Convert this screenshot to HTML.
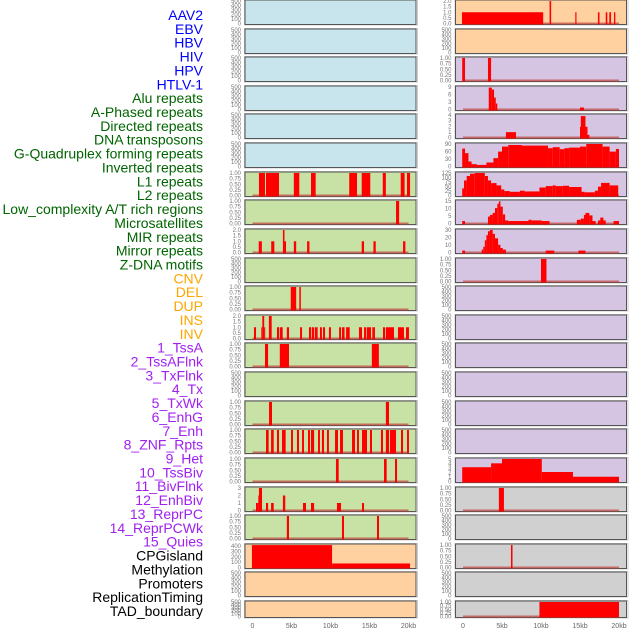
<!DOCTYPE html>
<html><head><meta charset="utf-8"><style>
body{margin:0;background:#fff;width:630px;height:630px;overflow:hidden;font-family:"Liberation Sans",sans-serif}
svg{display:block}
</style></head><body>
<svg id="chart" width="630" height="630" xmlns="http://www.w3.org/2000/svg"></svg>
<script>
const trackLabels = ["AAV2","EBV","HBV","HIV","HPV","HTLV-1","Alu repeats","A-Phased repeats","Directed repeats","DNA transposons","G-Quadruplex forming repeats","Inverted repeats","L1 repeats","L2 repeats","Low_complexity A/T rich regions","Microsatellites","MIR repeats","Mirror repeats","Z-DNA motifs","CNV","DEL","DUP","INS","INV","1_TssA","2_TssAFlnk","3_TxFlnk","4_Tx","5_TxWk","6_EnhG","7_Enh","8_ZNF_Rpts","9_Het","10_TssBiv","11_BivFlnk","12_EnhBiv","13_ReprPC","14_ReprPCWk","15_Quies","CPGisland","Methylation","Promoters","ReplicationTiming","TAD_boundary"];
const labelColors = ["#0000ff","#0000ff","#0000ff","#0000ff","#0000ff","#0000ff","#006400","#006400","#006400","#006400","#006400","#006400","#006400","#006400","#006400","#006400","#006400","#006400","#006400","#ffa500","#ffa500","#ffa500","#ffa500","#ffa500","#a020f0","#a020f0","#a020f0","#a020f0","#a020f0","#a020f0","#a020f0","#a020f0","#a020f0","#a020f0","#a020f0","#a020f0","#a020f0","#a020f0","#a020f0","#000000","#000000","#000000","#000000","#000000"];
const xTicks = [0,5,10,15,20];
const xTickLabels = ["0","5kb","10kb","15kb","20kb"];
const T500=["0","100","200","300","400","500"], T1=["0.00","0.25","0.50","0.75","1.00"], T2=["0.0","0.5","1.0","1.5","2.0"];
const leftYmax = [500,500,500,500,500,500,1,1,2,500,1,2,1,500,1,1,1,3,1,420,500,500];
const leftTicks = [T500,T500,T500,T500,T500,T500,T1,T1,T2,T500,T1,T2,T1,T500,T1,T1,T1,["0","1","2","3"],T1,["0","100","200","300","400"],T500,T500];
const leftTickVals = [null,null,null,null,null,null,null,null,null,null,null,null,null,null,null,null,null,null,null,[0,100,200,300,400],null,null];
const leftBars = [
 [],[],[],[],[],[],
 [[0.83,1.6,1],[1.73,3.4,1],[5.3,6.0,1],[7.5,8.1,1],[12.4,13.4,1],[14.0,15.1,1],[16.7,17.1,1],[19.0,19.5,1],[19.8,20.2,1]],
 [[18.4,18.8,1]],
 [[0.8,1.2,1],[2.4,2.8,1],[3.9,4.1,2],[4.1,4.3,1],[5.3,5.6,1],[7.0,7.3,1],[14.0,14.3,1],[15.5,15.8,1],[19.3,19.6,1]],
 [],
 [[4.9,5.6,1],[6.0,6.2,1]],
 [[0.19,0.45,1],[1.13,1.26,1],[1.26,1.5,2],[1.5,1.6,1],[2.1,2.46,2],[3.14,3.4,1],[3.5,3.87,1],[4.4,4.68,1],[6.1,6.35,1],[7.24,7.5,1],[7.6,7.9,1],[8.0,8.35,1],[8.65,8.9,1],[9.04,9.3,1],[9.8,10.06,1],[11.1,11.35,1],[11.47,11.8,1],[12.0,12.46,1],[13.65,14.04,1],[14.3,14.55,1],[14.64,15.19,1],[15.36,15.7,1],[16.73,17.0,1],[17.1,18.14,1],[18.65,19.42,1],[19.68,20.06,1]],
 [[1.6,2.0,1],[3.5,4.68,1],[15.3,16.2,1]],
 [],
 [[2.12,2.5,1],[17.1,17.5,1]],
 [[1.73,2.07,1],[2.38,2.72,1],[3.14,3.4,1],[3.78,4.25,1],[4.94,5.19,1],[5.7,5.96,1],[6.35,6.6,1],[7.12,7.37,1],[7.5,7.9,1],[8.4,8.65,1],[8.9,9.17,1],[9.55,9.8,1],[10.58,10.96,1],[11.22,11.6,1],[12.76,13.14,1],[13.4,13.65,1],[14.04,14.68,1],[15.06,15.32,1],[16.47,16.73,1],[17.1,17.5,1],[17.63,18.4,1],[19.04,19.3,1],[19.81,20.06,1]],
 [[10.7,11.05,1],[16.86,17.2,1],[18.27,18.53,1]],
 [[0.45,0.75,1],[0.75,0.83,2],[0.83,1.22,3],[1.73,2.0,1],[2.38,2.72,1],[3.9,4.2,2],[6.47,6.86,1],[7.5,7.9,1],[10.83,11.35,1],[14.04,14.3,1]],
 [[4.4,4.68,1],[11.47,11.73,1],[15.96,16.22,1]],
 [[-0.07,10.2,418],[10.2,20.2,75]],
 [],[]
];
const rightYmax = [2,500,1,11.3,4.2,113,127,18.3,35,1,500,500,500,500,500,500,5.2,1,500,1,500,1];
const rightTicks = [T2,T500,T1,["0","3","6","9"],["0","1","2","3","4"],["0","30","60","90"],["0","25","50","75","100","125"],["0","5","10","15"],["0","10","20","30"],T1,T500,T500,T500,T500,T500,T500,["0","1","2","3","4","5"],T1,T500,T1,T500,T1];
const rightBars = [
 [[-0.13,10.28,1],[11.1,11.3,2],[14.4,14.55,1],[17.3,17.5,1],[18.3,18.5,1],[18.76,18.98,1],[19.36,19.53,1]],
 [],
 [[-0.1,0.26,1],[3.2,3.6,1]],
 [[3.3,3.7,11],[3.7,3.98,10],[3.98,4.2,6],[4.2,4.4,3],[15.0,15.5,1]],
 [[5.5,6.8,1],[15.0,15.1,2],[15.1,15.7,4],[15.7,15.96,2],[15.96,16.2,0.5]],
 [[-0.1,0.26,90],[0.26,0.7,67],[0.7,1.1,25],[1.1,1.75,12],[1.75,3.0,8],[3.0,3.9,20],[3.9,4.5,42],[4.5,5.0,75],[5.0,5.8,100],[5.8,7.5,108],[7.5,10.9,105],[10.9,11.5,92],[11.5,12.4,97],[12.4,13.0,87],[13.0,13.6,92],[13.6,15.0,95],[15.0,15.8,100],[15.8,17.9,117],[17.9,18.8,100],[18.8,19.6,75],[19.6,20.0,88]],
 [[-0.1,0.13,40],[0.13,0.47,85],[0.47,0.9,110],[0.9,1.5,123],[1.5,2.8,127],[2.8,3.2,110],[3.2,3.6,85],[3.6,4.3,70],[4.3,4.9,57],[4.9,5.3,34],[5.3,6.0,25],[6.0,7.3,21],[7.3,7.9,27],[7.9,9.8,23],[9.8,10.6,45],[10.6,11.5,53],[11.5,11.9,57],[11.9,12.8,53],[12.8,13.6,55],[13.6,15.2,48],[15.2,15.6,21],[15.6,16.9,18],[16.9,17.3,27],[17.3,17.7,50],[17.7,18.8,71],[18.8,19.9,57]],
 [[-0.1,0.26,2],[3.2,3.45,5.6],[3.45,3.8,7],[3.8,4.1,8.6],[4.1,4.4,12.5],[4.4,4.6,16],[4.6,4.8,18],[4.8,5.1,13.7],[5.1,5.4,7.4],[5.4,5.8,2.5],[5.8,8.4,2],[8.4,8.8,3],[8.8,10.1,2.5],[10.1,11.1,2],[14.6,15.1,3],[15.1,15.5,4],[15.5,15.7,7],[15.7,16.2,8.6],[16.2,16.6,6.6],[16.6,17.0,2],[17.3,17.6,2.5],[17.6,18.0,4.8],[18.0,18.3,2.5],[19.3,20.0,2]],
 [[-0.1,0.26,3],[2.4,2.6,4.5],[2.6,2.8,9],[2.8,3.0,19],[3.0,3.2,27],[3.2,3.45,33],[3.45,3.8,35],[3.8,4.1,29],[4.1,4.5,22],[4.5,4.8,12],[4.8,5.1,7],[5.1,5.5,4.5],[10.6,11.7,3],[14.8,15.7,3]],
 [[10.0,10.7,1]],
 [],[],[],[],[],[],
 [[-0.1,3.6,3.3],[3.6,5.0,4.2],[5.0,10.1,5.3],[10.1,14.1,2.2],[14.1,20.0,1.1]],
 [[4.6,5.25,1]],
 [],
 [[6.15,6.35,1]],
 [],
 [[9.8,20.0,1]]
];
const leftBg = ["#c8e4ec","#c8e4ec","#c8e4ec","#c8e4ec","#c8e4ec","#c8e4ec","#c8e1a5","#c8e1a5","#c8e1a5","#c8e1a5","#c8e1a5","#c8e1a5","#c8e1a5","#c8e1a5","#c8e1a5","#c8e1a5","#c8e1a5","#c8e1a5","#c8e1a5","#ffd0a0","#ffd0a0","#ffd0a0"];
const rightBg = ["#ffd0a0","#ffd0a0","#d5c5e2","#d5c5e2","#d5c5e2","#d5c5e2","#d5c5e2","#d5c5e2","#d5c5e2","#d5c5e2","#d5c5e2","#d5c5e2","#d5c5e2","#d5c5e2","#d5c5e2","#d5c5e2","#d5c5e2","#d0d0d0","#d0d0d0","#d0d0d0","#d0d0d0","#d0d0d0"];

const NS="http://www.w3.org/2000/svg";
const svg=document.getElementById('chart');
function mk(tag,attrs,parent){const e=document.createElementNS(NS,tag);for(const k in attrs)e.setAttribute(k,attrs[k]);(parent||svg).appendChild(e);return e;}

trackLabels.forEach((t,i)=>{
  const e=mk('text',{x:203,y:20+i*13.86,'text-anchor':'end','font-size':'14',fill:labelColors[i]});
  e.textContent=t;
  
  
});

function rowTop(i){return Math.round(i*28.62);}
function rowH(i){return i===21?16.5:24.5;}
function drawColumn(px0,bars,ymax,ticks,tickVals,bgs,colName){
  const xs=kb=>px0+7.5+kb*7.8;
  for(let i=0;i<22;i++){
    const top=rowTop(i),h=rowH(i);
    const g=mk('g',{});
    
    
    mk('rect',{x:px0-0.5,y:top-0.5,width:173,height:h+1,fill:'none',stroke:'#ccc','stroke-width':1},g);
    mk('rect',{x:px0,y:top,width:171,height:h,fill:bgs[i],stroke:'#555','stroke-width':1},g);
    const y0=top+h-1,y1=top+1;
    const ys=v=>y0-(v/ymax[i])*(y0-y1);
    const tl=ticks[i];
    tl.forEach((lab,k)=>{
      const v=tickVals&&tickVals[i]?tickVals[i][k]:(tl.length>1?k*ymax[i]/(tl.length-1):0);
      const t=mk('text',{x:px0-4,y:ys(Math.min(v,ymax[i]))+2,'text-anchor':'end','font-size':'6',fill:'#777'},g);
      t.textContent=lab;
      
      
    });
    if(bars[i].length){
      const base=mk('rect',{x:xs(0),y:y0-1,width:xs(20)-xs(0),height:2,fill:'#c0403a',opacity:0.7},g);
      
      
      bars[i].forEach(b=>{
        const v=Math.min(b[2],ymax[i]);
        const yt=Math.max(ys(v),top);
        const r=mk('rect',{x:xs(b[0]),y:yt,width:Math.max(xs(b[1])-xs(b[0]),1),height:top+h-yt,fill:'#ff0000'},g);
        
        
      });
    }
  }
  xTicks.forEach((v,k)=>{
    const t=mk('text',{x:xs(v),y:628,'text-anchor':'middle','font-size':'7',fill:'#666'});
    t.textContent=xTickLabels[k];
    
    
  });
}
drawColumn(245,leftBars,leftYmax,leftTicks,leftTickVals,leftBg,'left');
drawColumn(455.5,rightBars,rightYmax,rightTicks,null,rightBg,'right');
</script>
</body></html>
